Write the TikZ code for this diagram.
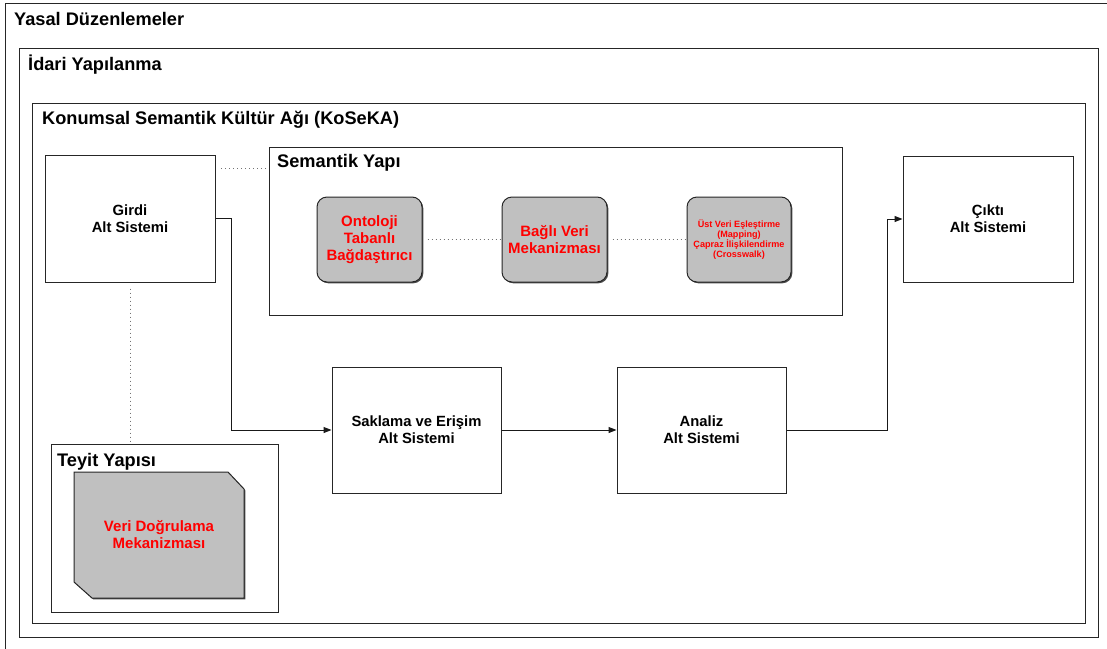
\documentclass[tikz,border=0pt]{standalone}
\usepackage{fontspec}
\setmainfont{Liberation Sans}
\usetikzlibrary{arrows.meta,shadows}
\definecolor{boxgray}{HTML}{C0C0C0}
\definecolor{redtext}{HTML}{FF0000}
\tikzset{
  frame/.style={draw=black!85, line width=1pt},
  title/.style={anchor=base west, inner sep=0pt, font=\bfseries\fontsize{18.2}{21}\selectfont},
  subsys/.style={frame, fill=white, inner sep=0pt, align=center,
    font=\bfseries\fontsize{14.8}{17}\selectfont},
  graybody/.style={draw=black!85, line width=1pt, fill=boxgray,
    drop shadow={shadow xshift=1.3pt, shadow yshift=-1.3pt, fill=black!70, opacity=1}},
  mech/.style={graybody, rounded corners=10pt,
    inner sep=0pt, align=center, text=redtext,
    font=\bfseries\fontsize{15}{17}\selectfont,
    minimum width=105pt, minimum height=85pt},
  flow/.style={draw=black!90, line width=1pt, -{Triangle[length=8pt,width=6pt]}},
  dots/.style={draw=black!55, line width=1pt, dash pattern=on 0.8pt off 3.2pt}
}
\begin{document}
\begin{tikzpicture}[x=1pt,y=-1pt]
\useasboundingbox (0,0) rectangle (1107,648);
\clip (0,0) rectangle (1107,648);
\fill[white] (0,0) rectangle (1107,648);

% nested frames
\draw[frame] (5,3) rectangle (1130,670);
\node[title] (yasal) at (14,25) {Yasal Düzenlemeler};
\draw[frame] (19,48) rectangle (1098,637);
\node[title] (idari) at (28,70) {İdari Yapılanma};
\draw[frame] (32,103) rectangle (1085,623);
\node[title] (koseka) at (42,124) {Konumsal Semantik Kültür Ağı (KoSeKA)};

% subsystems
\node[subsys, minimum width=170pt, minimum height=127pt] (girdi) at (130,218.5) {Girdi\\Alt Sistemi};
\node[subsys, minimum width=170pt, minimum height=126pt] (cikti) at (988,219) {Çıktı\\Alt Sistemi};
\node[subsys, minimum width=169pt, minimum height=126pt] (saklama) at (416.5,430) {Saklama ve Erişim\\Alt Sistemi};
\node[subsys, minimum width=169pt, minimum height=126pt] (analiz) at (701.5,430) {Analiz\\Alt Sistemi};

% semantic structure
\node[frame, minimum width=573pt, minimum height=168pt, inner sep=0pt] (semantik) at (555.5,231) {};
\node[title] (semtitle) at (277,167) {Semantik Yapı};
\node[mech] (ontoloji) at (369.5,239.5) {Ontoloji\\Tabanlı\\Bağdaştırıcı};
\node[mech] (bagli) at (554.5,239.5) {Bağlı Veri\\Mekanizması};
\node[mech, minimum width=104pt, font=\bfseries\fontsize{9.1}{10.2}\selectfont] (ustveri) at (739,239.5)
  {Üst Veri Eşleştirme\\(Mapping)\\Çapraz İlişkilendirme\\(Crosswalk)};

% verification structure
\node[frame, minimum width=227pt, minimum height=168pt, inner sep=0pt] (teyit) at (164.5,528) {};
\node[title] (teyittitle) at (57,466) {Teyit Yapısı};
\draw[graybody] (74,472) -- (228,472) -- (244,489) -- (244,598)
  -- (92,598) -- (74,582) -- cycle;
\node[align=center, text=redtext, inner sep=0pt,
  font=\bfseries\fontsize{15}{17}\selectfont] (dogrulama) at (159,535)
  {Veri Doğrulama\\Mekanizması};

% data flow
\draw[flow] (girdi.east) -- ++(16,0) |- (saklama.west);
\draw[flow] (saklama) -- (analiz);
\draw[flow] (analiz.east) -- ++(101,0) |- (cikti.west);

% associations
\coordinate (g1) at (221,168);
\draw[dots] (g1) -- (g1 -| semantik.west);
\draw[dots] ([xshift=5pt]ontoloji.east) -- (bagli.west);
\draw[dots] ([xshift=5pt]bagli.east) -- (ustveri.west);
\draw[dots] ([yshift=-6pt]girdi.south) -- (girdi.south |- teyit.north);
\end{tikzpicture}
\end{document}
